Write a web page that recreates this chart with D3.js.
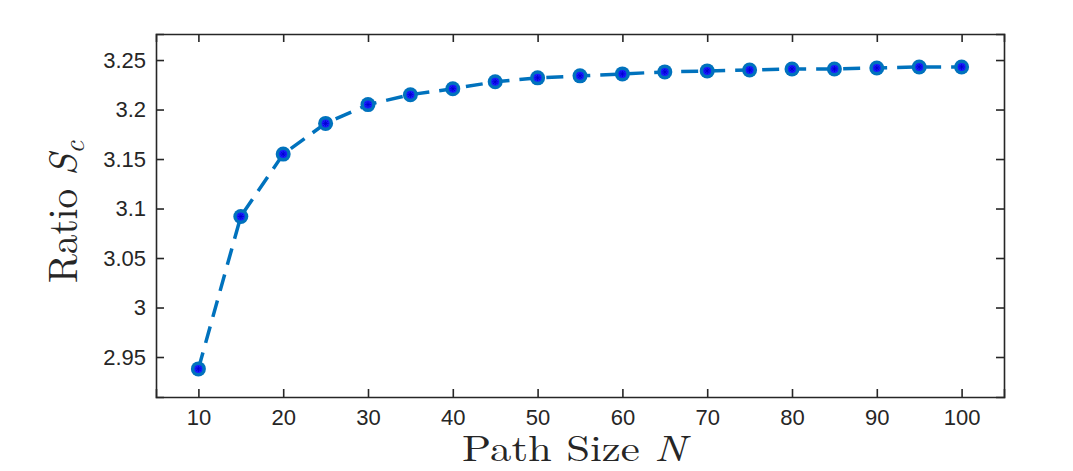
<!DOCTYPE html>
<html>
<head>
<meta charset="utf-8">
<script src="https://cdn.jsdelivr.net/npm/d3@7"></script>
<style>
body{margin:0;background:#fff;}
svg{display:block;}
</style>
</head>
<body>
<svg id="chart" width="1073" height="471"></svg>
<script>
// path sizes and ratio values
var pathSizes = [10,15,20,25,30,35,40,45,50,55,60,65,70,75,80,85,90,95,100];
var ratios = [2.938,3.092,3.155,3.186,3.205,3.215,3.221,3.228,3.232,3.234,3.236,3.238,3.239,3.240,3.241,3.241,3.242,3.243,3.243];
var xTicks = [10,20,30,40,50,60,70,80,90,100];
var yTicks = [2.95,3,3.05,3.1,3.15,3.2,3.25];

var margin = {top: 34, right: 69, bottom: 74, left: 156};
var width = 1073 - margin.left - margin.right, height = 471 - margin.top - margin.bottom;

var svg = d3.select("#chart");
var figure = svg.append("g")
    .attr("transform","translate(" + margin.left + "," + margin.top + ")");

var x = d3.scaleLinear().domain([5,105]).range([0,width]);
var y = d3.scaleLinear().domain([2.9096,3.2763]).range([height,0]);

var tickFont = "'Liberation Sans', Arial, sans-serif";

var xAxis = figure.append("g")
    .attr("transform","translate(0," + height + ")")
    .call(d3.axisBottom(x).tickValues(xTicks).tickSize(-8).tickPadding(12).tickFormat(d3.format("d")));
var yAxis = figure.append("g")
    .call(d3.axisLeft(y).tickValues(yTicks).tickSize(-8).tickPadding(10).tickFormat(function(d){ return String(+d.toFixed(2)); }));
// ticks on top and right as well
figure.append("g")
    .call(d3.axisTop(x).tickValues(xTicks).tickSize(-8).tickFormat(""));
figure.append("g")
    .attr("transform","translate(" + width + ",0)")
    .call(d3.axisRight(y).tickValues(yTicks).tickSize(-8).tickFormat(""));

figure.selectAll(".domain").attr("stroke","#262626").attr("stroke-width",1.6);
figure.selectAll(".tick line").attr("stroke","#262626").attr("stroke-width",1.6);
figure.selectAll(".tick text")
    .style("font-family",tickFont)
    .style("font-size","22px")
    .style("fill","#262626");

var line = d3.line()
    .x(function(d,i){ return x(pathSizes[i]); })
    .y(function(d){ return y(d); });

figure.append("path")
    .datum(ratios)
    .attr("d",line)
    .attr("fill","none")
    .attr("stroke","#0072BD")
    .attr("stroke-width",3.5)
    .attr("stroke-dasharray","17,10");

var pts = figure.append("g").selectAll("g")
    .data(ratios)
    .enter()
    .append("g")
    .attr("transform",function(d,i){ return "translate(" + x(pathSizes[i]) + "," + y(d) + ")"; });

pts.append("circle")
    .attr("r",7.5)
    .attr("fill","#0072BD");
pts.append("circle")
    .attr("r",4)
    .attr("fill","#1a1aff");
pts.append("path")
    .attr("d","M-3,0H3M0,-3V3M-2.2,-2.2L2.2,2.2M-2.2,2.2L2.2,-2.2")
    .attr("stroke","#0000cc")
    .attr("stroke-width",0.8);

var serif = "'Latin Modern Roman','Liberation Serif','DejaVu Serif',serif";

// the figure is a little stretched sideways, so the labels are too
var xl = svg.append("text")
    .attr("transform","translate(574,461) scale(1.19,1)")
    .attr("text-anchor","middle")
    .style("font-family",serif)
    .style("font-size","36px")
    .style("fill","#262626");
xl.append("tspan").text("Path Size ");
xl.append("tspan").style("font-style","italic").text("N");

var yl = svg.append("text")
    .attr("transform","translate(77,212) scale(1.18,1.12) rotate(-90)")
    .attr("text-anchor","middle")
    .style("font-family",serif)
    .style("font-size","35px")
    .style("fill","#262626");
yl.append("tspan").text("Ratio ");
yl.append("tspan").style("font-style","italic").text("S");
yl.append("tspan").style("font-style","italic").style("font-size","25px").attr("dy",6).text("c");
</script>
</body>
</html>
